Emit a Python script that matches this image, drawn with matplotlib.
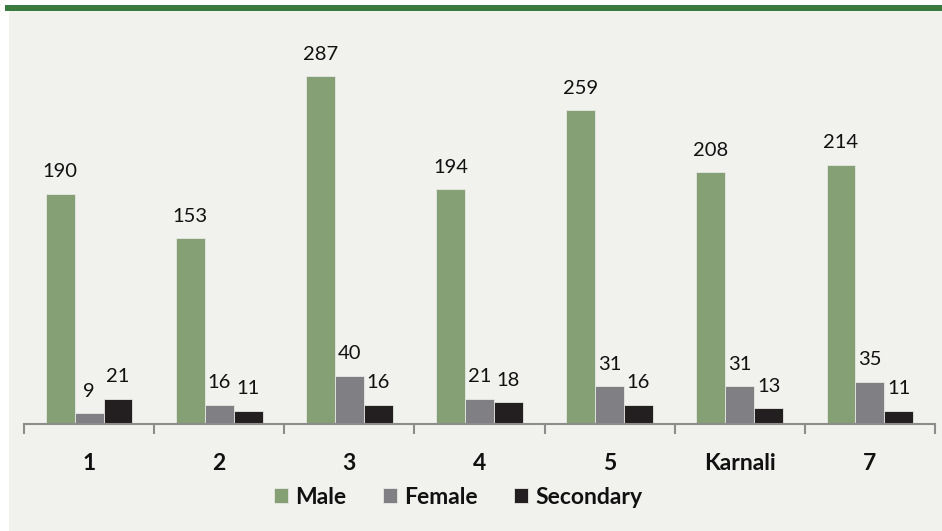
import matplotlib
matplotlib.use("Agg")
import matplotlib.pyplot as plt
import numpy as np
from matplotlib.patches import Rectangle

categories = ["1", "2", "3", "4", "5", "Karnali", "7"]
male = [190, 153, 287, 194, 259, 208, 214]
female = [9, 16, 40, 21, 31, 31, 35]
secondary = [21, 11, 16, 18, 16, 13, 11]
series_names = ["Male", "Female", "Secondary"]
colors = ["#84a074", "#7f7f84", "#231f20"]

W, H = 942, 531
fig = plt.figure(figsize=(W / 100, H / 100), dpi=100)
fig.patch.set_facecolor("white")

# background panel and top green band
fig.add_artist(Rectangle((9 / W, 0), 1 - 9 / W, 1 - 10 / H, transform=fig.transFigure,
                         facecolor="#f1f2ee", edgecolor="none", zorder=0))
fig.add_artist(Rectangle((5 / W, 1 - 10.5 / H), 1 - 5 / W, 5.5 / H, transform=fig.transFigure,
                         facecolor="#3b7a3d", edgecolor="none", zorder=1))

left, right = 24 / W, 935 / W
bottom = (H - 424) / H
top = (H - 20) / H
ax = fig.add_axes([left, bottom, right - left, top - bottom])
ax.set_facecolor("none")

x = np.arange(len(categories))
bw = 0.222
offsets = [-bw, 0, bw]
for vals, off, col, name in zip([male, female, secondary], offsets, colors, series_names):
    bars = ax.bar(x + off, vals, width=bw, color=col, edgecolor="#e6e8e2", linewidth=0.6,
                  label=name, zorder=2)
    for b, v in zip(bars, vals):
        ax.annotate(str(v), (b.get_x() + b.get_width() / 2, b.get_height()),
                    xytext=(0, 9.5), textcoords="offset points", ha="center", va="bottom",
                    fontsize=14.5, family="Lato", color="#111111")

ax.set_xlim(-0.5, len(categories) - 0.5)
ax.set_ylim(0, (424 - 20) / 1.2125)
ax.set_yticks([])
for s in ["top", "right", "left"]:
    ax.spines[s].set_visible(False)
ax.spines["bottom"].set_color("#8c8c8c")
ax.spines["bottom"].set_linewidth(1.5)

ax.set_xticks(np.arange(len(categories) + 1) - 0.5, minor=False)
ax.set_xticklabels([])
ax.tick_params(axis="x", which="major", length=7, width=1.5, color="#8c8c8c")
ax.set_xticks(x, minor=True)
ax.set_xticklabels(categories, minor=True, fontsize=16.5, fontweight="bold", family="Lato",
                   color="#111111")
ax.tick_params(axis="x", which="minor", length=0, pad=21)

leg = fig.legend(loc="center", bbox_to_anchor=(458 / W, 1 - 497 / H), ncol=3, frameon=False,
                 prop={"family": "Lato", "weight": "bold", "size": 16.5},
                 handlelength=0.62, handleheight=0.62, handletextpad=0.3, columnspacing=1.6)
for t in leg.get_texts():
    t.set_color("#111111")

fig.savefig("out.png", dpi=100, facecolor=fig.get_facecolor())
